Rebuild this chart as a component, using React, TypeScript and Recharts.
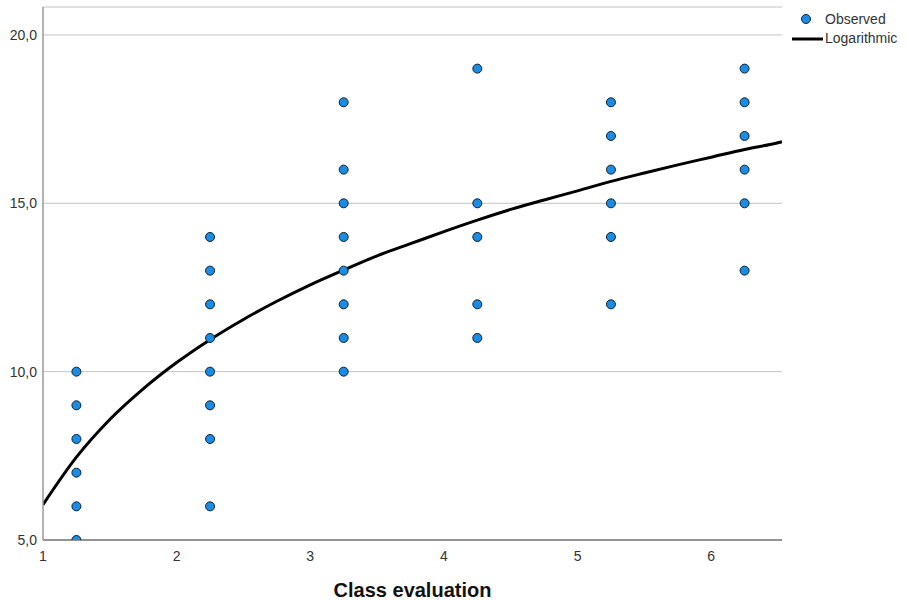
import React from "react"
import {
  ComposedChart,
  Scatter,
  Line,
  XAxis,
  YAxis,
  CartesianGrid,
  Label,
} from "recharts"

// class positions on the x axis
const classX = [1.25, 2.25, 3.25, 4.25, 5.25, 6.25]

// observed scores for each class
const observedByClass = [
  [10, 9, 8, 7, 6, 5],
  [14, 13, 12, 11, 10, 9, 8, 6],
  [18, 16, 15, 14, 13, 12, 11, 10],
  [19, 15, 14, 12, 11],
  [18, 17, 16, 15, 14, 12],
  [19, 18, 17, 16, 15, 13],
]

// logarithmic fit
const curveX = [1, 1.25, 1.5, 1.75, 2, 2.25, 2.5, 2.75, 3, 3.25, 3.5, 3.75, 4, 4.25, 4.5, 4.75, 5, 5.25, 5.5, 5.75, 6, 6.25, 6.5, 6.53]
const curveY = [6.05, 7.46, 8.58, 9.49, 10.27, 10.95, 11.55, 12.09, 12.58, 13.02, 13.44, 13.8, 14.16, 14.5, 14.82, 15.1, 15.37, 15.65, 15.9, 16.14, 16.37, 16.6, 16.8, 16.83]

const xTicks = [1, 2, 3, 4, 5, 6]
const yTicks = [5, 10, 15, 20]

const observed = classX.flatMap((x, i) => observedByClass[i].map((y) => ({ x, y })))
const curve = curveX.map((x, i) => ({ x, y: curveY[i] }))

const DOT_FILL = "#1b8ce3"
const DOT_STROKE = "#10202e"

function LegendBox() {
  return (
    <div style={{ position: "absolute", left: 792, top: 10, fontSize: 14, color: "#333", lineHeight: "19px" }}>
      <div style={{ display: "flex", alignItems: "center" }}>
        <svg width={33} height={19}>
          <circle cx={14} cy={9} r={4.5} fill={DOT_FILL} stroke={DOT_STROKE} strokeWidth={1} />
        </svg>
        <span>Observed</span>
      </div>
      <div style={{ display: "flex", alignItems: "center" }}>
        <svg width={33} height={19}>
          <line x1={0} y1={10} x2={31} y2={10} stroke="#000" strokeWidth={3} />
        </svg>
        <span>Logarithmic</span>
      </div>
    </div>
  )
}

export default function App() {
  return (
    <div style={{ position: "absolute", left: 0, top: 0, width: 908, height: 600, fontFamily: "'Liberation Sans', Arial, sans-serif" }}>
      <ComposedChart width={908} height={600} margin={{ top: 7, right: 126, left: 0, bottom: 0 }}>
        <CartesianGrid vertical={false} stroke="#c4c4c4" strokeWidth={1} />
        <XAxis
          type="number"
          dataKey="x"
          domain={[1, 6.53]}
          ticks={xTicks}
          allowDataOverflow
          height={60}
          tickLine={false}
          tickSize={0}
          tickMargin={11}
          axisLine={{ stroke: "#7a7a7a", strokeWidth: 1.5 }}
          tick={{ fill: "#333", fontSize: 14 }}
        >
          <Label
            value="Class evaluation"
            position="insideBottom"
            offset={3}
            style={{ fontSize: 20, fontWeight: "bold", fill: "#111" }}
          />
        </XAxis>
        <YAxis
          type="number"
          dataKey="y"
          domain={[5, 20.83]}
          ticks={yTicks}
          allowDataOverflow
          width={43}
          tickLine={false}
          tickSize={0}
          tickMargin={6}
          axisLine={{ stroke: "#999", strokeWidth: 1.5 }}
          tick={{ fill: "#333", fontSize: 14 }}
          tickFormatter={(v: number) => v.toFixed(1).replace(".", ",")}
        />
        <Line
          data={curve}
          dataKey="y"
          type="monotone"
          stroke="#000"
          strokeWidth={3}
          dot={false}
          activeDot={false}
          isAnimationActive={false}
          name="Logarithmic"
        />
        <Scatter
          data={observed}
          dataKey="y"
          fill={DOT_FILL}
          stroke={DOT_STROKE}
          strokeWidth={1}
          shape={(p: any) => <circle cx={p.cx} cy={p.cy} r={4.5} fill={DOT_FILL} stroke={DOT_STROKE} strokeWidth={1} />}
          isAnimationActive={false}
          name="Observed"
        />
      </ComposedChart>
      <LegendBox />
    </div>
  )
}
